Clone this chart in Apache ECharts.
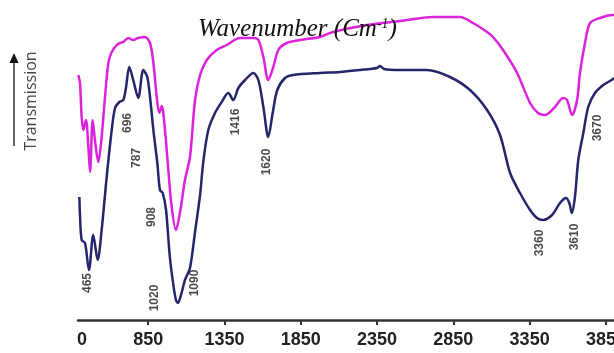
<!DOCTYPE html>
<html>
<head>
<meta charset="utf-8">
<script src="https://cdn.jsdelivr.net/npm/echarts@6/dist/echarts.min.js"></script>
<style>html,body{margin:0;padding:0;background:#fff}#c{width:614px;height:353px}</style>
</head>
<body>
<div id="c"></div>
<script>
// Wavenumber (cm-1) / transmission readings, navy spectrum
const navyWave = [399,403,414,436,462,490,519,545,578,611,633,661,687,705,726,752,785,818,844,862,884,910,927,945,967,992,1015,1032,1045,1065,1091,1124,1157,1190,1211,1244,1288,1332,1375,1408,1441,1485,1539,1572,1605,1637,1666,1696,1747,1801,1976,2107,2238,2350,2369,2396,2500,2677,2828,2959,3071,3156,3222,3287,3353,3398,3438,3497,3549,3588,3610,3626,3647,3669,3702,3734,3778,3833,3888,3903];
const navyTrans = [123,105,80,77,50,85,60,90,143,190,212,218,220,233,253,240,222,250,243,223,190,157,130,127,110,63,35,20,17,25,40,52,88,125,158,190,207,218,227,220,232,240,247,240,213,183,207,230,242,245,247,248,250,252,254,251,250,250,243,230,210,185,147,127,110,102,100,105,117,122,117,107,123,160,187,213,227,235,240,242];
// magenta spectrum
const magWave = [392,403,414,425,442,458,469,486,501,523,545,567,589,611,644,665,687,720,752,785,829,862,884,906,923,939,960,982,1004,1032,1059,1091,1124,1157,1190,1234,1299,1365,1452,1539,1572,1605,1637,1670,1703,1758,1845,1976,2061,2284,2500,2717,2894,2979,3071,3110,3176,3268,3353,3405,3451,3516,3569,3595,3628,3661,3680,3713,3746,3811,3890,3903];
const magTrans = [245,237,203,190,200,173,148,200,180,158,183,223,257,268,275,277,278,282,280,282,283,277,257,223,207,214,190,150,113,90,108,140,163,220,245,260,270,275,282,282,280,263,240,253,270,277,280,283,288,295,299,303,303,297,288,283,270,247,217,207,205,213,222,220,205,220,247,277,297,302,305,305];
// peak annotations
const peakText = ['465','696','787','908','1020','1090','1416','1620','3360','3610','3670'];
const peakWave = [456,718,777,875,895,1157,1426,1629,3418,3647,3798];
const peakTrans = [37,197,162,103,22,37,198,158,77,83,192];
// x-axis ticks and labels
const tickValues = [850,1350,1850,2350,2850,3350,3850];
const labelValues = [416,850,1350,1850,2350,2850,3350,3850];
const labelTexts = ['0','850','1350','1850','2350','2850','3350','3850'];

const navyData = navyWave.map((w,i)=>[w,navyTrans[i]]);
const magData = magWave.map((w,i)=>[w,magTrans[i]]);
const peakData = peakWave.map((w,i)=>({value:[w,peakTrans[i]],name:peakText[i]}));

const chart = echarts.init(document.getElementById('c'));
chart.setOption({
  animation:false,
  backgroundColor:'#fff',
  title:{
    text:'{a|Wavenumber (Cm}{s|-1}{a|)}',
    left:193, top:12,
    textStyle:{
      rich:{
        a:{fontFamily:'Liberation Serif',fontStyle:'italic',fontWeight:'normal',fontSize:25,color:'#111'},
        s:{fontFamily:'Liberation Serif',fontStyle:'italic',fontWeight:'normal',fontSize:14,color:'#111',verticalAlign:'top',padding:[0,0,11,0]}
      }
    }
  },
  grid:{left:78,right:0,top:0,bottom:33,outerBoundsMode:'none',containLabel:false},
  xAxis:{
    type:'value',min:390,max:3903,
    splitLine:{show:false},
    axisLine:{show:true,lineStyle:{color:'#333',width:2.5}},
    axisTick:{show:true,customValues:tickValues,length:5,lineStyle:{color:'#333',width:2}},
    axisLabel:{
      customValues:labelValues,
      formatter:function(v){const i=labelValues.indexOf(v);return i>=0?labelTexts[i]:'';},
      color:'#222',fontFamily:'Liberation Sans',fontWeight:'bold',fontSize:18,margin:11
    }
  },
  yAxis:{type:'value',min:0,max:320,show:false},
  graphic:[
    {type:'line',shape:{x1:14,y1:146,x2:14,y2:60},style:{stroke:'#666',lineWidth:2}},
    {type:'polygon',shape:{points:[[9.5,63],[18.5,63],[14,53]]},style:{fill:'#111'}},
    {type:'text',x:31,y:101,rotation:Math.PI/2,
     style:{text:'Transmission',fill:'#444',font:'16px "Open Sans"',align:'center',verticalAlign:'middle'}}
  ],
  series:[
    {type:'line',data:magData,showSymbol:false,smooth:0.3,lineStyle:{color:'#dc22dc',width:2.5}},
    {type:'line',data:navyData,showSymbol:false,smooth:0.3,lineStyle:{color:'#25256b',width:2.5}},
    {type:'scatter',data:peakData,symbolSize:0,
     label:{show:true,position:'inside',rotate:90,formatter:'{b}',
       color:'#1a1a1a',fontFamily:'Liberation Sans Narrow, Liberation Sans',fontWeight:'bold',fontSize:12}}
  ]
});
</script>
</body>
</html>
